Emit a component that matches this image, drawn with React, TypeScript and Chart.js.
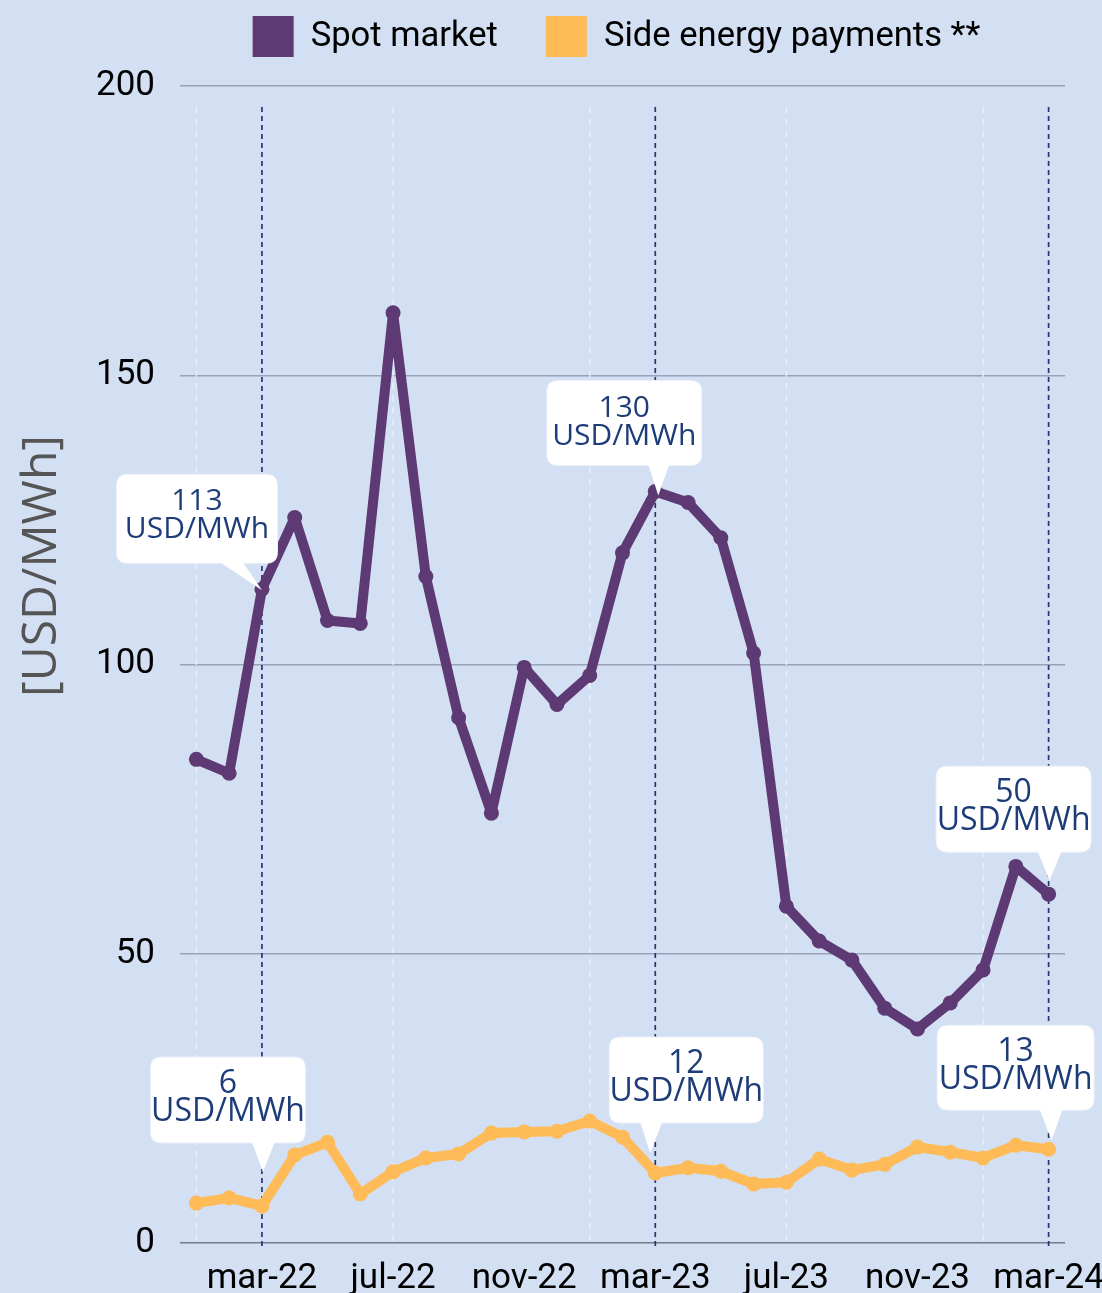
import React, { useEffect, useRef } from "react";
import { Chart, registerables } from "chart.js";

Chart.register(...registerables);

// ---- data ----
const months = [
  "jan-22", "feb-22", "mar-22", "apr-22", "may-22", "jun-22", "jul-22", "aug-22", "sep-22",
  "oct-22", "nov-22", "dec-22", "jan-23", "feb-23", "mar-23", "apr-23", "may-23", "jun-23",
  "jul-23", "aug-23", "sep-23", "oct-23", "nov-23", "dec-23", "jan-24", "feb-24", "mar-24",
];
const spotMarket = [
  83.6, 81.2, 113, 125.4, 107.6, 107.1, 160.8, 115.2, 90.8, 74.3, 99.5, 93.1, 98.1, 119.3,
  129.9, 128, 121.9, 102, 58.2, 52.2, 48.9, 40.6, 37, 41.5, 47.2, 65.1, 60.3,
];
const sidePayments = [
  6.9, 7.8, 6.4, 15.2, 17.4, 8.5, 12.3, 14.7, 15.4, 19, 19.2, 19.3, 21.1, 18.3, 12.1, 13,
  12.4, 10.2, 10.5, 14.5, 12.6, 13.6, 16.6, 15.7, 14.7, 16.9, 16.2,
];
const seriesNames = ["Spot market", "Side energy payments **"];
const yTicks = [0, 50, 100, 150, 200];
const xTickLabels = ["mar-22", "jul-22", "nov-22", "mar-23", "jul-23", "nov-23", "mar-24"];
const markerMonths = ["mar-22", "mar-23", "mar-24"];
const halfYearMonths = ["jan-22", "jul-22", "jan-23", "jul-23", "jan-24"];
const axisTitle = "[USD/MWh]";
const calloutValues = ["113", "130", "50", "6", "12", "13"];
const calloutSeries = [0, 0, 0, 1, 1, 1];
const calloutMonths = ["mar-22", "mar-23", "mar-24", "mar-22", "mar-23", "mar-24"];
const calloutUnit = "USD/MWh";

// ---- styles (layout of callouts relative to their point) ----
const calloutStyle = [
  { dx: -65, bottom: -26, w: 161, h: 89, font: 30, baseL: -42, baseR: -19, apexDx: 0, apexDy: 1 },
  { dx: -31, bottom: -26, w: 155, h: 85, font: 30, baseL: -7, baseR: 14, apexDx: 3, apexDy: 4 },
  { dx: -35, bottom: -42, w: 155, h: 86, font: 32, baseL: -11, baseR: 13, apexDx: 1, apexDy: -14 },
  { dx: -34, bottom: -63, w: 155, h: 86, font: 32, baseL: -10, baseR: 13, apexDx: 1, apexDy: -34 },
  { dx: 31, bottom: -50, w: 154, h: 86, font: 32, baseL: -15, baseR: 7, apexDx: -5, apexDy: -20 },
  { dx: -33, bottom: -39, w: 157, h: 85, font: 32, baseL: -9, baseR: 14, apexDx: 3, apexDy: -9 },
];

const BG = "#d3dff2";
const PURPLE = "#5e3a74";
const ORANGE = "#ffbb58";
const LABEL_BLUE = "#1e3d78";

function roundRect(ctx: CanvasRenderingContext2D, x: number, y: number, w: number, h: number, r: number) {
  ctx.beginPath();
  ctx.moveTo(x + r, y);
  ctx.lineTo(x + w - r, y);
  ctx.quadraticCurveTo(x + w, y, x + w, y + r);
  ctx.lineTo(x + w, y + h - r);
  ctx.quadraticCurveTo(x + w, y + h, x + w - r, y + h);
  ctx.lineTo(x + r, y + h);
  ctx.quadraticCurveTo(x, y + h, x, y + h - r);
  ctx.lineTo(x, y + r);
  ctx.quadraticCurveTo(x, y, x + r, y);
  ctx.closePath();
}

const decorPlugin = {
  id: "decor",
  beforeDraw(chart: any) {
    const { ctx, width, height } = chart;
    ctx.save();
    ctx.fillStyle = BG;
    ctx.fillRect(0, 0, width, height);
    ctx.restore();
  },
  beforeDatasetsDraw(chart: any) {
    const { ctx } = chart;
    const xs = chart.scales.x;
    const top = 107;
    const bottom = 1247;
    ctx.save();
    ctx.strokeStyle = "rgba(240,238,250,0.9)";
    ctx.lineWidth = 1.5;
    ctx.setLineDash([6, 6]);
    halfYearMonths.forEach((m) => {
      const x = xs.getPixelForValue(months.indexOf(m));
      ctx.beginPath();
      ctx.moveTo(x, top);
      ctx.lineTo(x, chart.chartArea.bottom);
      ctx.stroke();
    });
    ctx.strokeStyle = "#2b3470";
    ctx.lineWidth = 1.7;
    ctx.setLineDash([5, 4]);
    markerMonths.forEach((m) => {
      const x = xs.getPixelForValue(months.indexOf(m));
      ctx.beginPath();
      ctx.moveTo(x, top);
      ctx.lineTo(x, bottom);
      ctx.stroke();
    });
    ctx.restore();
  },
  afterDatasetsDraw(chart: any) {
    const { ctx } = chart;
    calloutValues.forEach((val, i) => {
      const st = calloutStyle[i];
      const meta = chart.getDatasetMeta(calloutSeries[i]);
      const pt = meta.data[months.indexOf(calloutMonths[i])];
      const px = pt.x;
      const py = pt.y;
      const bx = px + st.dx - st.w / 2;
      const bBottom = py + st.bottom;
      const by = bBottom - st.h;
      ctx.save();
      ctx.fillStyle = "#ffffff";
      ctx.strokeStyle = "rgba(235,240,250,1)";
      ctx.lineWidth = 1;
      roundRect(ctx, bx, by, st.w, st.h, 11);
      ctx.fill();
      ctx.stroke();
      ctx.beginPath();
      ctx.moveTo(px + st.baseL, bBottom - 1);
      ctx.lineTo(px + st.apexDx, py + st.apexDy);
      ctx.lineTo(px + st.baseR, bBottom - 1);
      ctx.closePath();
      ctx.fill();
      ctx.fillStyle = LABEL_BLUE;
      ctx.font = `${st.font}px 'Open Sans'`;
      ctx.textAlign = "center";
      ctx.textBaseline = "alphabetic";
      const cx = bx + st.w / 2;
      ctx.fillText(val, cx, by + 36);
      ctx.fillText(calloutUnit, cx, by + 64);
      ctx.restore();
    });
  },
  afterDraw(chart: any) {
    const { ctx } = chart;
    ctx.save();
    ctx.font = "34.6px Roboto";
    ctx.textBaseline = "middle";
    ctx.textAlign = "left";
    const box = 41;
    const gap = 17;
    const itemGap = 48;
    const colors = [PURPLE, ORANGE];
    const widths = seriesNames.map((n) => ctx.measureText(n).width);
    const total =
      widths.reduce((a, b) => a + b, 0) + seriesNames.length * (box + gap) + itemGap * (seriesNames.length - 1);
    let x = 616.5 - total / 2;
    const top = 16;
    seriesNames.forEach((n, i) => {
      ctx.fillStyle = colors[i];
      ctx.fillRect(x, top, box, box);
      ctx.fillStyle = "#000000";
      ctx.fillText(n, x + box + gap, top + box / 2 + 1);
      x += box + gap + widths[i] + itemGap;
    });
    ctx.translate(42, 566);
    ctx.rotate(-Math.PI / 2);
    ctx.font = "48px 'Open Sans'";
    ctx.fillStyle = "#555555";
    ctx.textAlign = "center";
    ctx.textBaseline = "middle";
    ctx.fillText(axisTitle, 0, 0);
    ctx.restore();
  },
};

export default function App() {
  const ref = useRef<HTMLCanvasElement>(null);
  useEffect(() => {
    if (!ref.current) return;
    const chart = new Chart(ref.current, {
      type: "line",
      data: {
        labels: months,
        datasets: [
          {
            label: seriesNames[0],
            data: spotMarket,
            borderColor: PURPLE,
            backgroundColor: PURPLE,
            borderWidth: 10,
            borderJoinStyle: "round",
            borderCapStyle: "round",
            pointRadius: 7.5,
            pointBackgroundColor: PURPLE,
            pointBorderWidth: 0,
            tension: 0,
          },
          {
            label: seriesNames[1],
            data: sidePayments,
            borderColor: ORANGE,
            backgroundColor: ORANGE,
            borderWidth: 10,
            borderJoinStyle: "round",
            borderCapStyle: "round",
            pointRadius: 7.5,
            pointBackgroundColor: ORANGE,
            pointBorderWidth: 0,
            tension: 0,
          },
        ],
      },
      options: {
        responsive: false,
        animation: false,
        devicePixelRatio: 1,
        layout: { padding: { top: 86, left: 0, right: 37, bottom: 0 } },
        plugins: { legend: { display: false }, tooltip: { enabled: false } },
        scales: {
          x: {
            offset: true,
            grid: { display: false, drawTicks: false },
            border: { display: false },
            afterFit: (s: any) => {
              s.height = 50;
              s.paddingLeft = 0;
              s.paddingRight = 0;
            },
            ticks: {
              autoSkip: false,
              maxRotation: 0,
              padding: 15,
              color: "#000000",
              font: { family: "Roboto", size: 35 },
              callback: (_v: any, i: number) => (xTickLabels.includes(months[i]) ? months[i] : ""),
            },
          },
          y: {
            min: 0,
            max: 200,
            afterBuildTicks: (s: any) => {
              s.ticks = yTicks.map((v) => ({ value: v }));
            },
            afterFit: (s: any) => {
              s.width = 180;
              s.paddingTop = 0;
              s.paddingBottom = 0;
            },
            border: { display: false },
            grid: {
              drawTicks: false,
              lineWidth: 1.5,
              color: (c: any) => (c.tick && c.tick.value === 0 ? "#777b86" : "#98a2b8"),
            },
            ticks: {
              padding: 25,
              color: "#000000",
              font: { family: "Roboto", size: 35 },
            },
          },
        },
      },
      plugins: [decorPlugin],
    });
    return () => chart.destroy();
  }, []);
  return (
    <div style={{ position: "absolute", left: 0, top: 0, width: 1102, height: 1293, background: BG }}>
      <canvas ref={ref} width={1102} height={1293} style={{ display: "block" }} />
    </div>
  );
}
